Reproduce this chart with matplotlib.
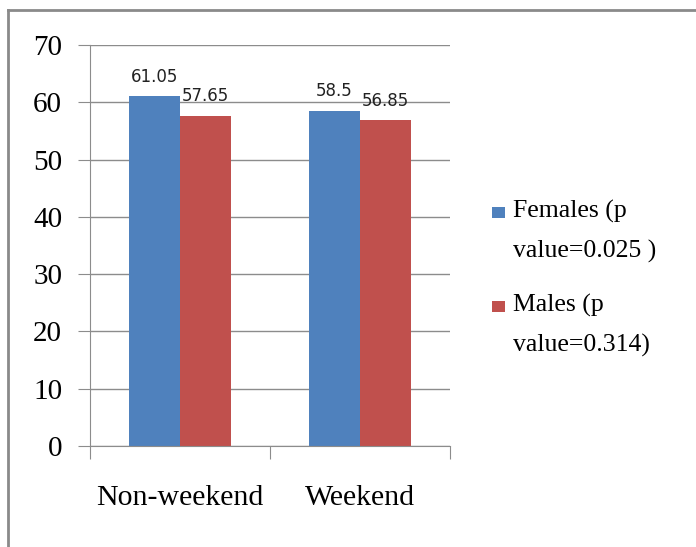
import numpy as np
import matplotlib.pyplot as plt
from matplotlib.lines import Line2D
from matplotlib.patches import Rectangle

# Data
categories = ['Non-weekend', 'Weekend']
females = [61.05, 58.5]
males = [57.65, 56.85]
legend_lines = [['Females (p', 'value=0.025 )'], ['Males (p', 'value=0.314)']]
colors = ['#4F81BD', '#C0504D']

W, H = 696, 547
fig = plt.figure(figsize=(W/100, H/100), dpi=100)
ax = fig.add_axes([0.1293, 0.1846, 0.5172, 0.7331])

x = np.arange(len(categories))
w = 0.285
b1 = ax.bar(x - w/2, females, w, color=colors[0], zorder=2)
b2 = ax.bar(x + w/2, males, w, color=colors[1], zorder=2)

for bars, vals in [(b1, females), (b2, males)]:
    for r, v in zip(bars, vals):
        ax.text(r.get_x() + r.get_width()/2, v + 3.4, f'{v:g}', ha='center', va='center',
                fontsize=12, family='DejaVu Sans', color='#222222')

ax.set_xlim(-0.5, 1.5)
ax.set_ylim(0, 70)
ax.set_yticks(range(0, 71, 10))
ax.yaxis.grid(True, color='#8c8c8c', linewidth=1, zorder=0)
ax.set_axisbelow(True)
for s in ['top', 'right']:
    ax.spines[s].set_visible(False)
ax.spines['left'].set_color('#8c8c8c')
ax.spines['bottom'].set_color('#8c8c8c')

# Category labels between the tick marks
ax.set_xticks([-0.5, 0.5, 1.5])
ax.set_xticklabels([])
ax.set_xticks(x, minor=True)
ax.set_xticklabels(categories, minor=True, fontsize=21.5, family='Liberation Serif')
ax.tick_params(axis='x', which='major', length=9, color='#8c8c8c', direction='out')
ax.tick_params(axis='x', which='minor', length=0, pad=28)
ax.tick_params(axis='y', length=9, color='#8c8c8c', labelsize=21, pad=11)
for t in ax.get_yticklabels():
    t.set_family('Liberation Serif')

# Legend drawn by hand so the marker sits on the first line
for i, (lines, c) in enumerate(zip(legend_lines, colors)):
    base = 218 + i * 94
    fig.add_artist(Rectangle((492/W, 1 - base/H), 13/W, 11/H, transform=fig.transFigure,
                             facecolor=c, edgecolor='none'))
    for j, s in enumerate(lines):
        fig.text(513/W, 1 - (base + j*40)/H, s, va='baseline', ha='left',
                 fontsize=18.5, family='Liberation Serif')

# Outer chart border (left and top only visible)
fig.add_artist(Line2D([0.0115, 0.0115], [0.0, 0.982], color='#8a8a8a', linewidth=2))
fig.add_artist(Line2D([0.0115, 1.0], [0.982, 0.982], color='#8a8a8a', linewidth=2))

fig.savefig('out.png', dpi=100)
